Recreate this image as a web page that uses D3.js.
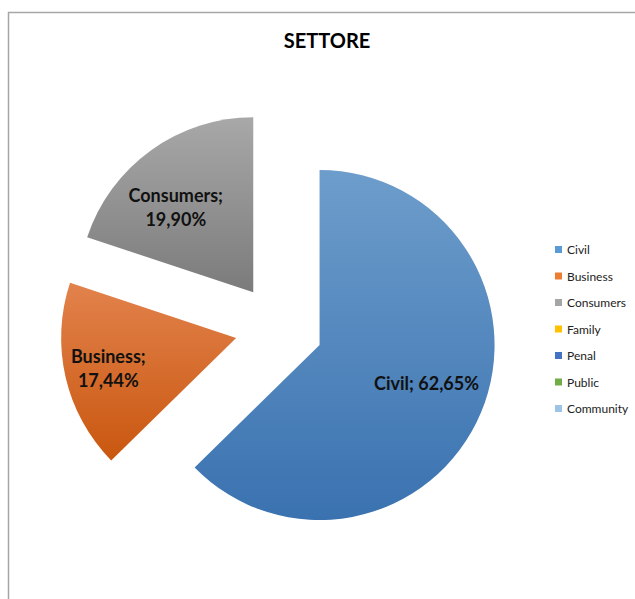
<!DOCTYPE html>
<html>
<head>
<meta charset="utf-8">
<script src="https://cdn.jsdelivr.net/npm/d3@7"></script>
<style>
  html, body { margin: 0; padding: 0; background: #fff; }
  svg { display: block; font-family: Lato, "Open Sans", sans-serif; }
</style>
</head>
<body>
<svg id="chart" width="635" height="599"></svg>
<script>
// data
const categories = ['Civil', 'Business', 'Consumers', 'Family', 'Penal', 'Public', 'Community'];
const shares = [62.65, 17.44, 19.90, 0, 0, 0, 0];
const shareLabels = ['62,65%', '17,44%', '19,90%', '0,00%', '0,00%', '0,00%', '0,00%'];
const chartTitle = 'SETTORE';

// office palette, light/dark ends for the slice gradients
const baseColors = ['#5b9bd5', '#ed7d31', '#a5a5a5', '#ffc000', '#4472c4', '#70ad47', '#9dc3e6'];
const topColors = ['#6d9dcb', '#e2824c', '#a8a8a8', '#ffc933', '#5a82c9', '#82b65c', '#a9cbe9'];
const bottomColors = ['#3a72b0', '#c9570f', '#7b7b7b', '#d9a300', '#2f5ba8', '#5a9334', '#7fafd9'];

const svg = d3.select('#chart');
const defs = svg.append('defs');

// chart frame
svg.append('rect')
    .attr('x', 8.5).attr('y', 12.5)
    .attr('width', 700).attr('height', 700)
    .attr('fill', '#fff')
    .attr('stroke', '#a6a6a6')
    .attr('stroke-width', 1.5);

svg.append('text')
    .attr('x', 327).attr('y', 48)
    .attr('text-anchor', 'middle')
    .attr('font-size', 20)
    .attr('font-weight', 'bold')
    .attr('fill', '#000')
    .text(chartTitle);

categories.forEach((c, i) => {
    const g = defs.append('linearGradient')
        .attr('id', 'grad' + i)
        .attr('x1', 0).attr('y1', 0).attr('x2', 0).attr('y2', 1);
    g.append('stop').attr('offset', '0%').attr('stop-color', topColors[i]);
    g.append('stop').attr('offset', '100%').attr('stop-color', bottomColors[i]);
});

// pie
const cx = 279, cy = 328, radius = 175, explode = 44;
const pie = d3.pie().sort(null).value(d => d.value).startAngle(0).endAngle(2 * Math.PI);
const arcs = pie(categories.map((c, i) => ({ name: c, value: shares[i], label: shareLabels[i], i })));
const arc = d3.arc().innerRadius(0).outerRadius(radius);

const plot = svg.append('g').attr('transform', `translate(${cx},${cy})`);

const slices = plot.selectAll('g.slice')
    .data(arcs.filter(d => d.data.value > 0))
    .join('g')
    .attr('class', 'slice')
    .attr('transform', d => {
        const mid = (d.startAngle + d.endAngle) / 2;
        return `translate(${Math.sin(mid) * explode},${-Math.cos(mid) * explode})`;
    });

slices.append('path')
    .attr('d', arc)
    .attr('fill', d => `url(#grad${d.data.i})`);

// label placement (best fit, roughly as excel puts them)
const labelFit = {
    Civil: { r: 0.65, shift: -0.05, lines: 1 },
    Business: { r: 0.75, shift: 0, lines: 2 },
    Consumers: { r: 0.66, shift: -0.11, lines: 2 }
};

slices.each(function (d) {
    const fit = labelFit[d.data.name];
    const mid = (d.startAngle + d.endAngle) / 2 + fit.shift;
    const lx = Math.sin(mid) * radius * fit.r;
    const ly = -Math.cos(mid) * radius * fit.r;
    const t = d3.select(this).append('text')
        .attr('text-anchor', 'middle')
        .attr('font-size', 18)
        .attr('font-weight', 'bold')
        .attr('fill', '#111');
    if (fit.lines === 1) {
        t.append('tspan').attr('x', lx).attr('y', ly + 6)
            .text(`${d.data.name}; ${d.data.label}`);
    } else {
        t.append('tspan').attr('x', lx).attr('y', ly - 5).text(`${d.data.name};`);
        t.append('tspan').attr('x', lx).attr('y', ly + 19).text(d.data.label);
    }
});

// legend
const legendY = d3.scalePoint().domain(categories).range([250, 409]);
const legend = svg.append('g');
const items = legend.selectAll('g')
    .data(categories)
    .join('g')
    .attr('transform', d => `translate(555,${legendY(d)})`);

items.append('rect')
    .attr('x', 0).attr('y', -4)
    .attr('width', 7).attr('height', 7)
    .attr('fill', (d, i) => baseColors[i]);

items.append('text')
    .attr('x', 12).attr('y', 4)
    .attr('font-size', 12)
    .attr('fill', '#222')
    .text(d => d);
</script>
</body>
</html>
